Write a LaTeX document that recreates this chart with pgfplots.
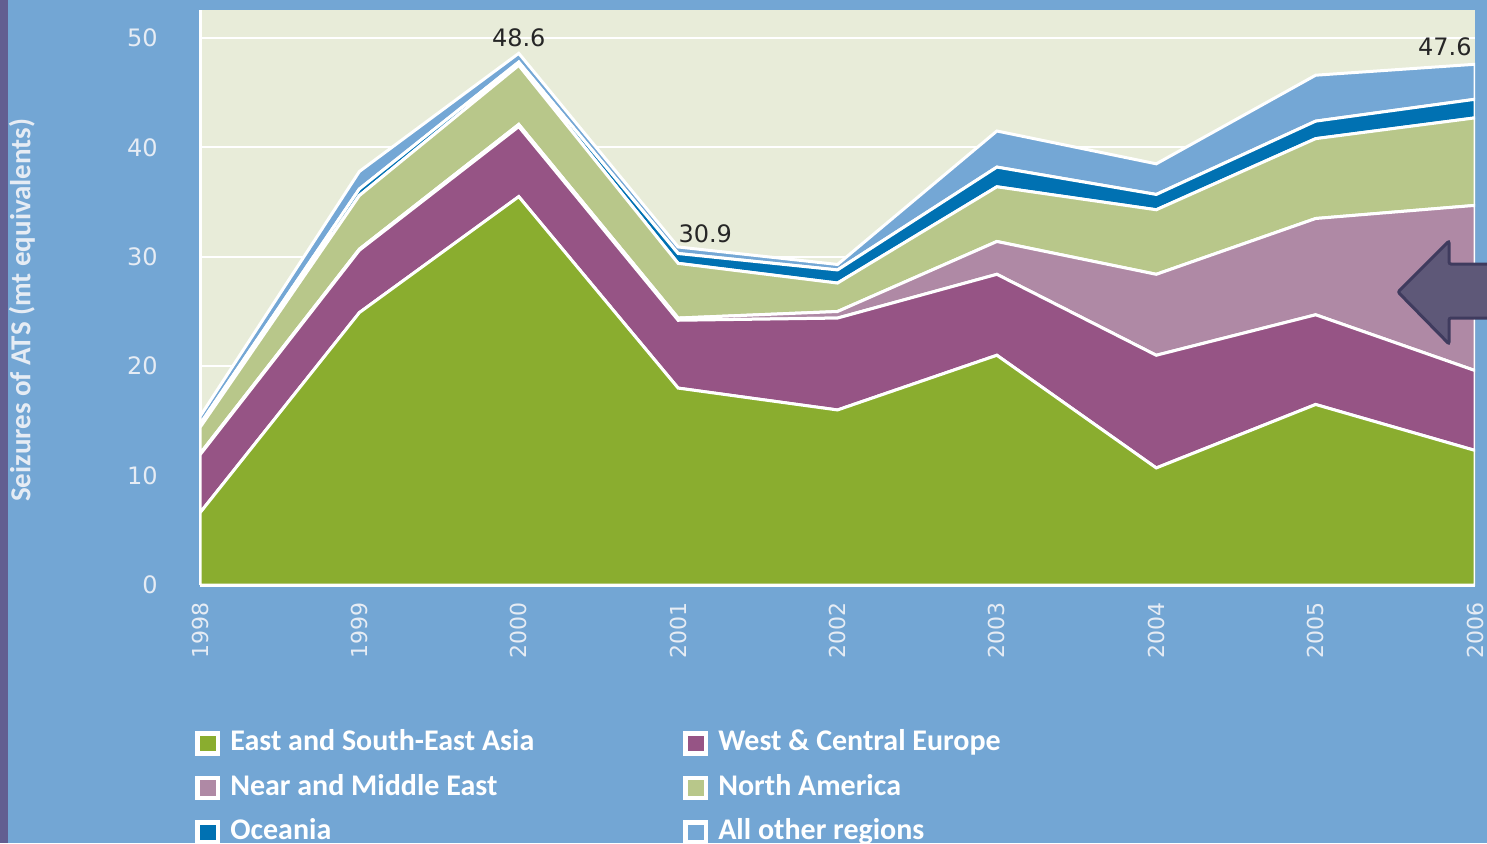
\documentclass[border=0pt]{standalone}
\usepackage{pgfplots}
\pgfplotsset{compat=1.18}
\usepackage{fontspec}
\setmainfont{Carlito}
\newfontfamily\dvs{DejaVu Sans}
\definecolor{bgblue}{HTML}{73A6D4}
\definecolor{plotbg}{HTML}{E8ECD9}
\definecolor{stripe}{HTML}{625E91}
\definecolor{asia}{HTML}{8AAD2F}
\definecolor{europe}{HTML}{965485}
\definecolor{nme}{HTML}{AF89A5}
\definecolor{namer}{HTML}{B8C78A}
\definecolor{oceania}{HTML}{0071B2}
\definecolor{other}{HTML}{74A7D5}
\definecolor{tickc}{HTML}{E6ECF4}
\definecolor{arrowfill}{HTML}{5E5878}
\definecolor{arrowdraw}{HTML}{3F3B5E}
\begin{document}
\begin{tikzpicture}
\path[use as bounding box] (0pt,0pt) rectangle (743.5pt,421.5pt);
\clip (0pt,0pt) rectangle (743.5pt,421.5pt);
\fill[bgblue] (0pt,0pt) rectangle (743.5pt,421.5pt);
\fill[stripe] (0pt,0pt) rectangle (4pt,421.5pt);
\begin{axis}[
  at={(100pt,129pt)}, anchor=south west,
  width=637.5pt, height=287.5pt, scale only axis,
  xmin=1998, xmax=2006, ymin=0, ymax=52.56,
  stack plots=y,
  axis background/.style={fill=plotbg},
  axis x line*=bottom, axis y line*=left,
  axis line style={white, line width=1.5pt, -},
  major tick length=0pt,
  ytick={0,10,20,30,40,50},
  xtick={1998,1999,2000,2001,2002,2003,2004,2005,2006},
  xticklabels={1998,1999,2000,2001,2002,2003,2004,2005,2006},
  ymajorgrids, grid style={white, line width=1pt},
  /pgf/number format/assume math mode=true,
  yticklabel style={font=\dvs\fontsize{12}{14}\selectfont, text=tickc, inner sep=0pt, xshift=-21pt},
  xticklabel style={font=\dvs\fontsize{11}{13}\selectfont, text=tickc, inner sep=0pt, yshift=-8.5pt, xshift=0pt, rotate=90, anchor=east},
  ylabel={Seizures of ATS (mt equivalents)},
  ylabel style={at={(axis description cs:-0.1396,0.478)}, anchor=center, font=\bfseries\fontsize{14.5}{16}\selectfont, text=tickc},
  legend columns=2,
  legend cell align=left,
  legend image code/.code={\draw[#1, draw=white, line width=2.25pt] (0pt,-5pt) rectangle (10.25pt,5pt);},
  legend style={at={(axis description cs:-0.0087,-0.2386)}, anchor=north west, draw=none, fill=none, text=white,
    font=\bfseries\fontsize{15}{18}\selectfont,
    nodes={inner sep=2pt, text height=10pt, text depth=3pt}, row sep=5.25pt,
    /tikz/every odd column/.append style={column sep=3pt}},
]
\addplot[fill=asia, draw=white, line width=1.5pt] coordinates {(1998,6.6) (1999,24.9) (2000,35.5) (2001,18.0) (2002,16.0) (2003,21.0) (2004,10.7) (2005,16.5) (2006,12.3)} \closedcycle;
\addplot[fill=europe, draw=white, line width=1.5pt] coordinates {(1998,5.3) (1999,5.7) (2000,6.4) (2001,6.2) (2002,8.4) (2003,7.4) (2004,10.3) (2005,8.2) (2006,7.3)} \closedcycle;
\addplot[fill=nme, draw=white, line width=1.5pt] coordinates {(1998,0.1) (1999,0.1) (2000,0.2) (2001,0.2) (2002,0.6) (2003,3.0) (2004,7.4) (2005,8.8) (2006,15.1)} \closedcycle;
\addplot[fill=namer, draw=white, line width=1.5pt] coordinates {(1998,2.4) (1999,4.9) (2000,5.4) (2001,5.0) (2002,2.6) (2003,5.0) (2004,5.9) (2005,7.3) (2006,8.0)} \closedcycle;
\addplot[fill=oceania, draw=white, line width=1.5pt] coordinates {(1998,0.3) (1999,0.6) (2000,0.3) (2001,0.9) (2002,1.2) (2003,1.8) (2004,1.4) (2005,1.6) (2006,1.7)} \closedcycle;
\addplot[fill=other, draw=white, line width=1.5pt] coordinates {(1998,0.7) (1999,1.6) (2000,0.8) (2001,0.6) (2002,0.5) (2003,3.3) (2004,2.8) (2005,4.2) (2006,3.2)} \closedcycle;
\legend{{\makebox[224.5pt][l]{East and South-East Asia}}, West \& Central Europe, {\makebox[224.5pt][l]{Near and Middle East}}, North America, {\makebox[224.5pt][l]{Oceania}}, All other regions}
\node[anchor=west, inner sep=0pt, xshift=2pt, font=\dvs\fontsize{12}{14}\selectfont, text=black!85] at (axis cs:1998,15.4) {15.4};
\node[anchor=south, inner sep=0pt, yshift=3pt, font=\dvs\fontsize{12}{14}\selectfont, text=black!85] at (axis cs:2000,48.6) {48.6};
\node[anchor=south west, inner sep=0pt, yshift=2pt, font=\dvs\fontsize{12}{14}\selectfont, text=black!85] at (axis cs:2001,30.9) {30.9};
\node[anchor=south east, inner sep=0pt, xshift=-1.5pt, yshift=4pt, font=\dvs\fontsize{12}{14}\selectfont, text=black!85] at (axis cs:2006,47.6) {47.6};
\end{axis}
\draw[fill=arrowfill, draw=arrowdraw, line width=1.5pt, rounded corners=1pt]
  (699pt,275.5pt) -- (724.5pt,301pt) -- (724.5pt,289.5pt) -- (752pt,289.5pt) -- (752pt,262.5pt) -- (724.5pt,262.5pt) -- (724.5pt,249.5pt) -- cycle;
\end{tikzpicture}
\end{document}
